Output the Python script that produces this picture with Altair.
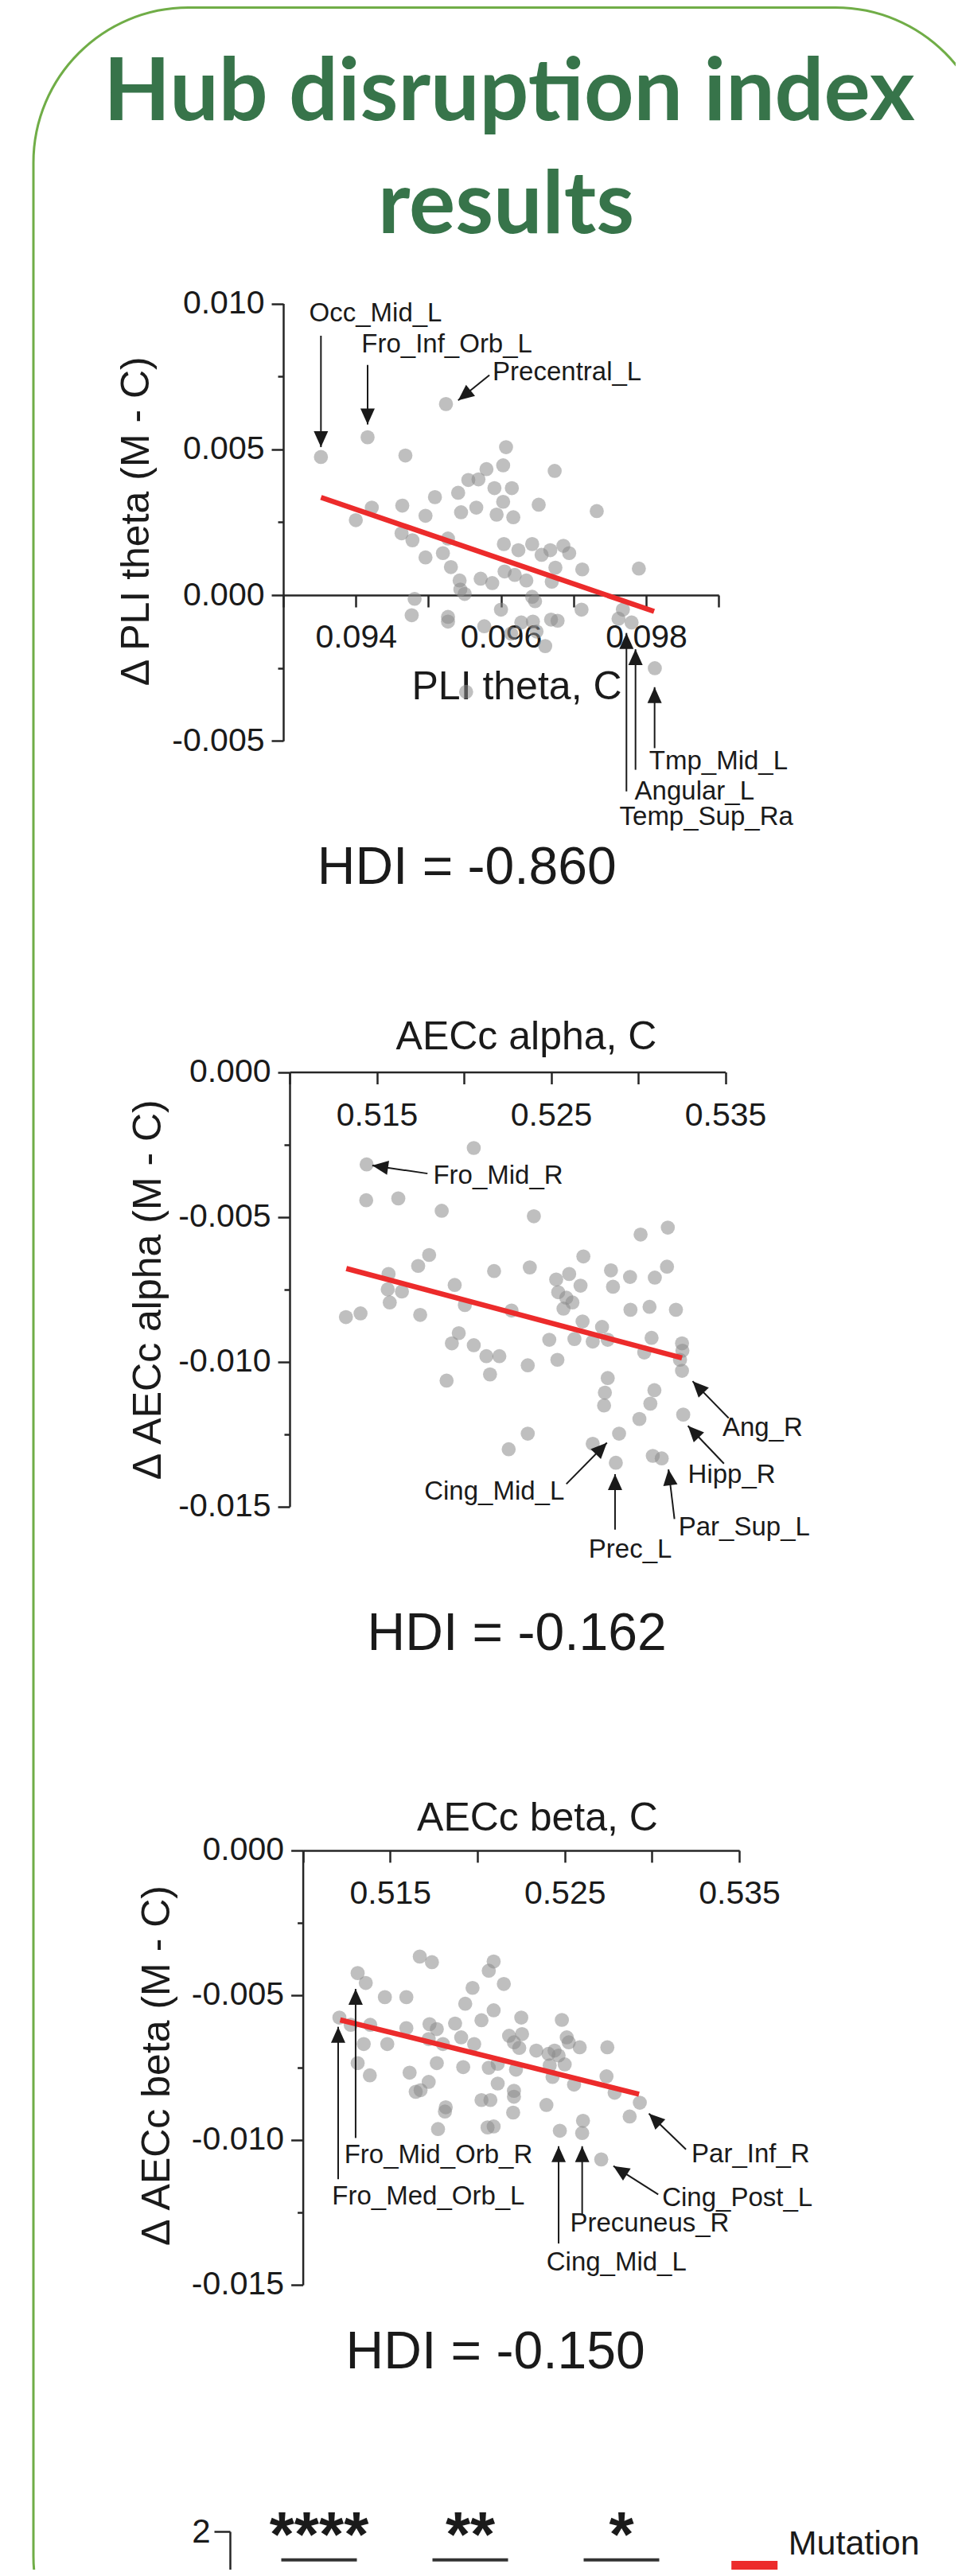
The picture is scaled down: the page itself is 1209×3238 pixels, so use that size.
import math
import json
import altair as alt
import pandas as pd

W, H = 1193, 3222
M = 8

FONT = "Liberation Sans"
INK = "#1a1a1a"
AXC = "#262626"
RED = "#ec2b2b"
DOT = "#8a8a8a"
TITLE_GREEN = "#37744a"
BORDER_GREEN = "#70ad47"
ARROW = "M0,0L0.45,1L-0.45,1Z"


def cx(v):
    return v - M


def cy(v):
    return v - M


# ---------------- Panel 1 : PLI theta ----------------
p1_x = [0.093519, 0.094162, 0.095242, 0.094683, 0.09607, 0.09603, 0.0958, 0.09674, 0.09555, 0.09569,
        0.09541, 0.09591, 0.09615, 0.09509, 0.09603, 0.09464, 0.09422, 0.09652, 0.09732, 0.09545,
        0.09566, 0.09496, 0.094, 0.09594, 0.09617, 0.09463, 0.09478, 0.09527, 0.09604, 0.09624,
        0.09643, 0.09668, 0.09686, 0.09694, 0.09656, 0.09496, 0.0952, 0.09712, 0.0979, 0.09675,
        0.09531, 0.09605, 0.09619, 0.09635, 0.0967, 0.09543, 0.09572, 0.09588, 0.09544, 0.0955,
        0.09481, 0.09643, 0.09647, 0.096, 0.09711, 0.09477, 0.09527, 0.09527, 0.09577, 0.09628,
        0.09644, 0.09669, 0.09678, 0.09768, 0.09762, 0.0978, 0.09649, 0.09661, 0.09812, 0.09552,
        0.09614]
p1_y = [0.004737, 0.005414, 0.006554, 0.004787, 0.005075, 0.00445, 0.00432, 0.00426, 0.00395, 0.00397,
        0.00351, 0.00367, 0.00367, 0.00336, 0.0032, 0.00307, 0.003, 0.0031, 0.00288, 0.00284,
        0.003, 0.00272, 0.00257, 0.00276, 0.00267, 0.00212, 0.00188, 0.00194, 0.00175, 0.00154,
        0.00175, 0.00154, 0.00169, 0.00144, 0.00138, 0.00129, 0.00144, 0.00088, 0.00091, 0.00094,
        0.00096, 0.00081, 0.00069, 0.0005, 0.00046, 0.0005, 0.00056, 0.00041, 0.00019, 0.00004,
        -0.00013, -0.00006, -0.00021, -0.0005, -0.0005, -0.00069, -0.00075, -0.00091, -0.00107, -0.00094,
        -0.00091, -0.00084, -0.00088, -0.0005, -0.00081, -0.00094, -0.00125, -0.00175, -0.00251, -0.00332,
        -0.00132]
p1_fit_x = [0.09352, 0.09811]
p1_fit_y = [0.00335, -0.00056]
p1_labels = ["Occ_Mid_L", "Fro_Inf_Orb_L", "Precentral_L", "Tmp_Mid_L", "Angular_L", "Temp_Sup_Ra"]
p1_lab_x = [0.093357, 0.094078, 0.095885, 0.098042, 0.097842, 0.097633]
p1_lab_y = [0.009649, 0.008584, 0.007644, -0.005711, -0.006735, -0.007618]
p1_arr_x0 = [0.093519, 0.094162, 0.095841, 0.098117, 0.097854, 0.097729]
p1_arr_y0 = [0.008897, 0.007895, 0.007544, -0.005251, -0.005994, -0.006735]
p1_arr_x1 = [0.093519, 0.094162, 0.09541, 0.098117, 0.097854, 0.097729]
p1_arr_y1 = [0.005075, 0.005852, 0.006679, -0.00316, -0.001859, -0.001301]
p1_hdi = ["HDI = -0.860", 0.09553, -0.009361]

# ---------------- Panel 2 : AECc alpha ----------------
p2_x = [0.514418, 0.520567, 0.514394, 0.516235, 0.518727, 0.524015, 0.530141, 0.531702, 0.518005, 0.517376,
        0.526857, 0.531655, 0.515676, 0.521732, 0.523782, 0.525296, 0.526041, 0.528441, 0.529535, 0.530956,
        0.519472, 0.526693, 0.528557, 0.515629, 0.516444, 0.525412, 0.525878, 0.526228, 0.525715, 0.515745,
        0.520055, 0.522733, 0.530653, 0.529559, 0.532168, 0.51323, 0.514068, 0.517492, 0.52681, 0.527928,
        0.519705, 0.519309, 0.520567, 0.5249, 0.526344, 0.527393, 0.528254, 0.53077, 0.532517, 0.521289,
        0.522035, 0.530351, 0.525366, 0.523665, 0.532401, 0.532517, 0.521499, 0.519007, 0.528254, 0.528091,
        0.530933, 0.528044, 0.5307, 0.530071, 0.532587, 0.523665, 0.528906, 0.52257, 0.527393, 0.52872,
        0.53084, 0.531353, 0.53254]
p2_y = [-0.003189, -0.002622, -0.004425, -0.004362, -0.00479, -0.004979, -0.00561, -0.00537, -0.006315, -0.006693,
        -0.006366, -0.006719, -0.006971, -0.00687, -0.006744, -0.00716, -0.006971, -0.006845, -0.007072, -0.007097,
        -0.007349, -0.007374, -0.007412, -0.0075, -0.007576, -0.007601, -0.00779, -0.007954, -0.008168, -0.007954,
        -0.008042, -0.008231, -0.008105, -0.008206, -0.008206, -0.008458, -0.008332, -0.008383, -0.00861, -0.008799,
        -0.009013, -0.009366, -0.009429, -0.00924, -0.009215, -0.009303, -0.00924, -0.009177, -0.009366, -0.009807,
        -0.009807, -0.009681, -0.009933, -0.010122, -0.009933, -0.010311, -0.010437, -0.010652, -0.010563, -0.011068,
        -0.01098, -0.011509, -0.011446, -0.011975, -0.011824, -0.01248, -0.01248, -0.013021, -0.012832, -0.013488,
        -0.013248, -0.013337, -0.009618]
p2_fit_x = [0.513253, 0.532517]
p2_fit_y = [-0.006782, -0.00987]
p2_labels = ["Fro_Mid_R", "Cing_Mid_L", "Prec_L", "Par_Sup_L", "Hipp_R", "Ang_R"]
p2_lab_x = [0.518238, 0.517725, 0.527159, 0.532317, 0.532857, 0.534835]
p2_lab_y = [-0.003593, -0.014471, -0.016488, -0.015707, -0.013904, -0.012287]
p2_arr_x0 = [0.517912, 0.525878, 0.528674, 0.532084, 0.534924, 0.535194]
p2_arr_y0 = [-0.003504, -0.014219, -0.015795, -0.015429, -0.013516, -0.011945]
p2_arr_x1 = [0.514744, 0.528208, 0.528674, 0.531741, 0.532857, 0.533125]
p2_arr_y1 = [-0.003227, -0.012795, -0.013879, -0.013715, -0.012212, -0.010671]
p2_hdi = ["HDI = -0.162", 0.523041, -0.019399]

# ---------------- Panel 3 : AECc beta ----------------
p3_x = [0.512093, 0.51314, 0.513605, 0.514698, 0.51593, 0.516698, 0.517395, 0.52093, 0.520651, 0.521512,
        0.519721, 0.519302, 0.52093, 0.520233, 0.522512, 0.524837, 0.512744, 0.51386, 0.51593, 0.517256,
        0.517674, 0.518721, 0.521814, 0.522558, 0.525116, 0.51907, 0.519814, 0.522093, 0.522395, 0.523372,
        0.524419, 0.524651, 0.52586, 0.527442, 0.513488, 0.514837, 0.517209, 0.518023, 0.51314, 0.513837,
        0.517674, 0.519186, 0.520651, 0.521163, 0.522209, 0.52414, 0.525, 0.524302, 0.525535, 0.527395,
        0.516116, 0.517209, 0.516744, 0.516465, 0.521163, 0.522093, 0.522093, 0.520233, 0.520744, 0.523953,
        0.52786, 0.529302, 0.518186, 0.51814, 0.522047, 0.528721, 0.517744, 0.520581, 0.52093, 0.524721,
        0.526047, 0.526, 0.527093, 0.52407, 0.525233]
p3_y = [-0.005774, -0.004237, -0.004579, -0.005068, -0.005068, -0.003667, -0.003861, -0.003838, -0.004157, -0.004613,
        -0.004749, -0.005296, -0.005524, -0.005866, -0.005774, -0.005854, -0.006025, -0.006025, -0.006139, -0.006002,
        -0.006173, -0.005979, -0.006401, -0.006344, -0.006458, -0.006458, -0.006686, -0.006629, -0.006822, -0.006913,
        -0.006913, -0.007084, -0.0068, -0.0068, -0.006686, -0.006686, -0.006515, -0.006686, -0.007346, -0.007768,
        -0.007346, -0.007483, -0.007506, -0.007369, -0.007574, -0.007426, -0.007392, -0.007825, -0.008087, -0.007802,
        -0.007677, -0.007995, -0.00828, -0.008337, -0.008052, -0.008303, -0.008508, -0.008622, -0.008622, -0.008793,
        -0.008371, -0.008713, -0.008872, -0.00902, -0.009055, -0.009191, -0.009624, -0.009567, -0.009533, -0.009681,
        -0.009339, -0.009761, -0.010672, -0.007027, -0.006629]
p3_fit_x = [0.51214, 0.529256]
p3_fit_y = [-0.005854, -0.008417]
p3_labels = ["Fro_Mid_Orb_R", "Fro_Med_Orb_L", "Cing_Mid_L", "Precuneus_R", "Cing_Post_L", "Par_Inf_R"]
p3_lab_x = [0.512372, 0.511674, 0.523953, 0.52531, 0.530583, 0.532265]
p3_lab_y = [-0.010535, -0.011948, -0.014226, -0.012887, -0.012018, -0.010505]
p3_arr_x0 = [0.513023, 0.512023, 0.524651, 0.526, 0.530356, 0.531946]
p3_arr_y0 = [-0.009932, -0.011355, -0.013576, -0.012608, -0.011879, -0.010324]
p3_arr_x1 = [0.513023, 0.512023, 0.524651, 0.526, 0.52779, 0.529822]
p3_arr_y1 = [-0.004784, -0.006093, -0.010216, -0.010216, -0.010901, -0.009088]
p3_hdi = ["HDI = -0.150", 0.52103, -0.017338]

# ---------------- Bottom bar chart (top edge only) ----------------
sig_groups = [1, 2, 3]
sig_stars = ["****", "**", "*"]
sig_bar_y = 1.762
sig_star_y = 1.793
legend_text = ["Mutation", 4.104, 1.893]
legend_square = [3.88, 1.56]

title_lines = ["Hub disruption index", "results"]


def axis_common():
    return dict(grid=False, domainColor=AXC, tickColor=AXC, domainWidth=2.5, tickWidth=2.5,
                labelFont=FONT, labelColor=INK, titleFont=FONT, titleColor=INK,
                titleFontWeight="normal", labelOverlap=False, labelFlush=False)


def make_panel(P):
    xd, yd, xp, yp = P["xdom"], P["ydom"], P["xpix"], P["ypix"]
    xs = alt.Scale(domain=xd, range=[cx(xp[0]), cx(xp[1])], nice=False, zero=False)
    ys = alt.Scale(domain=yd, range=[cy(yp[0]), cy(yp[1])], nice=False, zero=False)
    sx = (xp[1] - xp[0]) / (xd[1] - xd[0])
    sy = (yp[0] - yp[1]) / (yd[1] - yd[0])
    y0_page = yp[0] + yd[0] * sy

    xaxis = alt.Axis(
        orient="bottom", offset=cy(y0_page) - H, values=P["xticks"],
        labelExpr="indexof(%s, datum.value) >= 0 ? format(datum.value, '.3f') : ''" % json.dumps(P["xlabels"]),
        tickSize=15, labelFontSize=41, labelPadding=P["xlabpad"],
        title=P["xtitle"], titleFontSize=50, titleX=cx(P["xtitle_at"][0]), titleY=P["xtitle_at"][1] - y0_page,
        titleAlign="center", titleBaseline="middle", **axis_common())
    ymaj = alt.Axis(
        orient="left", offset=-cx(xp[0]), values=P["ymajor"],
        labelExpr="datum.value < 0 ? '-' + format(-datum.value, '.3f') : format(datum.value, '.3f')",
        tickSize=15, labelFontSize=41, labelPadding=9,
        title=P["ytitle"], titleFontSize=50, titleAngle=270,
        titleX=P["ytitle_at"][0] - xp[0], titleY=cy(P["ytitle_at"][1]),
        titleAlign="center", titleBaseline="middle", **axis_common())
    ymin = alt.Axis(orient="left", offset=-cx(xp[0]), values=P["yminor"], labels=False, domain=False,
                    tickSize=7, title=None, **axis_common())

    n = min(len(P["px"]), len(P["py"]))
    pts = alt.Chart(pd.DataFrame({"x": P["px"][:n], "y": P["py"][:n]})).mark_circle(
        size=314, color=DOT, opacity=0.55).encode(
        x=alt.X("x:Q", scale=xs, axis=xaxis), y=alt.Y("y:Q", scale=ys, axis=ymaj))
    fit = alt.Chart(pd.DataFrame({"x": P["fx"], "y": P["fy"]})).mark_line(
        color=RED, strokeWidth=6.5, strokeCap="butt").encode(
        x=alt.X("x:Q", scale=xs, axis=None), y=alt.Y("y:Q", scale=ys, axis=ymin))

    ang = []
    for a, b, c, d in zip(P["ax0"], P["ay0"], P["ax1"], P["ay1"]):
        dx = (c - a) * sx
        dy = -(d - b) * sy
        ang.append(math.degrees(math.atan2(dx, -dy)) % 360)
    adf = pd.DataFrame({"x0": P["ax0"], "y0": P["ay0"], "x1": P["ax1"], "y1": P["ay1"], "ang": ang})
    shafts = alt.Chart(adf).mark_rule(color=INK, strokeWidth=2).encode(
        x=alt.X("x0:Q", scale=xs, axis=None), y=alt.Y("y0:Q", scale=ys, axis=None),
        x2="x1:Q", y2="y1:Q")
    heads = alt.Chart(adf).mark_point(shape=ARROW, filled=True, size=1600, color=INK, opacity=1).encode(
        x=alt.X("x1:Q", scale=xs, axis=None), y=alt.Y("y1:Q", scale=ys, axis=None),
        angle=alt.Angle("ang:Q", scale=None))
    texts = alt.Chart(pd.DataFrame({"x": P["lx"], "y": P["ly"], "t": P["labels"]})).mark_text(
        align="left", baseline="middle", font=FONT, fontSize=33, color=INK).encode(
        x=alt.X("x:Q", scale=xs, axis=None), y=alt.Y("y:Q", scale=ys, axis=None), text="t:N")
    hdi = alt.Chart(pd.DataFrame({"x": [P["hdi"][1]], "y": [P["hdi"][2]], "t": [P["hdi"][0]]})).mark_text(
        align="center", baseline="middle", font=FONT, fontSize=66, color=INK).encode(
        x=alt.X("x:Q", scale=xs, axis=None), y=alt.Y("y:Q", scale=ys, axis=None), text="t:N")
    return alt.layer(pts, fit, shafts, heads, texts, hdi).resolve_axis(x="independent", y="independent")


P1 = dict(xdom=[0.093, 0.099], xpix=[356, 903.2], ydom=[-0.005, 0.010], ypix=[931.2, 381.6],
          xticks=[0.093, 0.094, 0.095, 0.096, 0.097, 0.098, 0.099], xlabels=[0.094, 0.096, 0.098], xlabpad=18,
          ymajor=[-0.005, 0.0, 0.005, 0.01], yminor=[-0.0025, 0.0025, 0.0075],
          xtitle="PLI theta, C", xtitle_at=[649, 863.7], ytitle="\u0394 PLI theta (M - C)", ytitle_at=[171.4, 654.8],
          px=p1_x, py=p1_y, fx=p1_fit_x, fy=p1_fit_y, labels=p1_labels, lx=p1_lab_x, ly=p1_lab_y,
          ax0=p1_arr_x0, ay0=p1_arr_y0, ax1=p1_arr_x1, ay1=p1_arr_y1, hdi=p1_hdi)
P2 = dict(xdom=[0.510, 0.535], xpix=[364, 911.5], ydom=[-0.015, 0.0], ypix=[1893.8, 1347.5],
          xticks=[0.51, 0.515, 0.52, 0.525, 0.53, 0.535], xlabels=[0.515, 0.525, 0.535], xlabpad=20,
          ymajor=[-0.015, -0.01, -0.005, 0.0], yminor=[-0.0125, -0.0075, -0.0025],
          xtitle="AECc alpha, C", xtitle_at=[661, 1303], ytitle="\u0394 AECc alpha (M - C)", ytitle_at=[186.7, 1620.7],
          px=p2_x, py=p2_y, fx=p2_fit_x, fy=p2_fit_y, labels=p2_labels, lx=p2_lab_x, ly=p2_lab_y,
          ax0=p2_arr_x0, ay0=p2_arr_y0, ax1=p2_arr_x1, ay1=p2_arr_y1, hdi=p2_hdi)
P3 = dict(xdom=[0.510, 0.535], xpix=[380.6, 929.1], ydom=[-0.015, 0.0], ypix=[2871.9, 2325.9],
          xticks=[0.51, 0.515, 0.52, 0.525, 0.53, 0.535], xlabels=[0.515, 0.525, 0.535], xlabpad=20,
          ymajor=[-0.015, -0.01, -0.005, 0.0], yminor=[-0.0125, -0.0075, -0.0025],
          xtitle="AECc beta, C", xtitle_at=[675, 2285.2], ytitle="\u0394 AECc beta (M - C)", ytitle_at=[197, 2596],
          px=p3_x, py=p3_y, fx=p3_fit_x, fy=p3_fit_y, labels=p3_labels, lx=p3_lab_x, ly=p3_lab_y,
          ax0=p3_arr_x0, ay0=p3_arr_y0, ax1=p3_arr_x1, ay1=p3_arr_y1, hdi=p3_hdi)

panel1 = make_panel(P1)
panel2 = make_panel(P2)
panel3 = make_panel(P3)

# bottom chart
xs4 = alt.Scale(domain=[0, 4], range=[cx(211), cx(971)], nice=False, zero=False)
ys4 = alt.Scale(domain=[0, 2], range=[cy(3482), cy(3182)], nice=False, zero=False)
y4axis = alt.Axis(orient="left", offset=-cx(289), values=[2], format="d", tickSize=20,
                  labelFontSize=42, labelPadding=5, title=None, **axis_common())
sig_df = pd.DataFrame({"x1": [g - 0.25 for g in sig_groups], "x2": [g + 0.25 for g in sig_groups],
                       "y": [sig_bar_y] * 3})
sig_bars = alt.Chart(sig_df).mark_rule(color="#333333", strokeWidth=4).encode(
    x=alt.X("x1:Q", scale=xs4, axis=None), x2="x2:Q", y=alt.Y("y:Q", scale=ys4, axis=y4axis))
stars = alt.Chart(pd.DataFrame({"x": sig_groups, "y": [sig_star_y] * 3, "t": sig_stars})).mark_text(
    font=FONT, fontWeight="bold", fontSize=80, align="center", baseline="alphabetic", color=INK).encode(
    x=alt.X("x:Q", scale=xs4, axis=None), y=alt.Y("y:Q", scale=ys4, axis=None), text="t:N")
leg_t = alt.Chart(pd.DataFrame({"x": [legend_text[1]], "y": [legend_text[2]], "t": [legend_text[0]]})).mark_text(
    font=FONT, fontSize=43, align="left", baseline="middle", color=INK).encode(
    x=alt.X("x:Q", scale=xs4, axis=None), y=alt.Y("y:Q", scale=ys4, axis=None), text="t:N")
leg_s = alt.Chart(pd.DataFrame({"x": [legend_square[0]], "y": [legend_square[1]]})).mark_square(
    size=3364, color=RED, opacity=1).encode(
    x=alt.X("x:Q", scale=xs4, axis=None), y=alt.Y("y:Q", scale=ys4, axis=None))
panel4 = alt.layer(sig_bars, stars, leg_t, leg_s).resolve_axis(x="independent", y="independent")

# decorations
one = pd.DataFrame({"a": [0]})
border = alt.Chart(one).mark_rect(cornerRadius=195, fillOpacity=0, stroke=BORDER_GREEN, strokeWidth=3).encode(
    x=alt.value(cx(42)), x2=alt.value(cx(1245)), y=alt.value(cy(9.5)), y2=alt.value(3400))
t1 = alt.Chart(one).mark_text(font="Lato", fontWeight="bold", fontSize=109, color=TITLE_GREEN,
                              align="center", baseline="alphabetic").encode(
    x=alt.value(cx(640)), y=alt.value(cy(151)), text=alt.value(title_lines[0]))
t2 = alt.Chart(one).mark_text(font="Lato", fontWeight="bold", fontSize=109, color=TITLE_GREEN,
                              align="center", baseline="alphabetic").encode(
    x=alt.value(cx(636)), y=alt.value(cy(293)), text=alt.value(title_lines[1]))

chart = alt.layer(border, t1, t2, panel1, panel2, panel3, panel4).resolve_scale(
    x="independent", y="independent").properties(
    width=W, height=H, padding=0, autosize=alt.AutoSizeParams(type="none"), background="white"
).configure_view(stroke=None)

chart.save("out.html", embed_options={"renderer": "svg", "actions": False})
